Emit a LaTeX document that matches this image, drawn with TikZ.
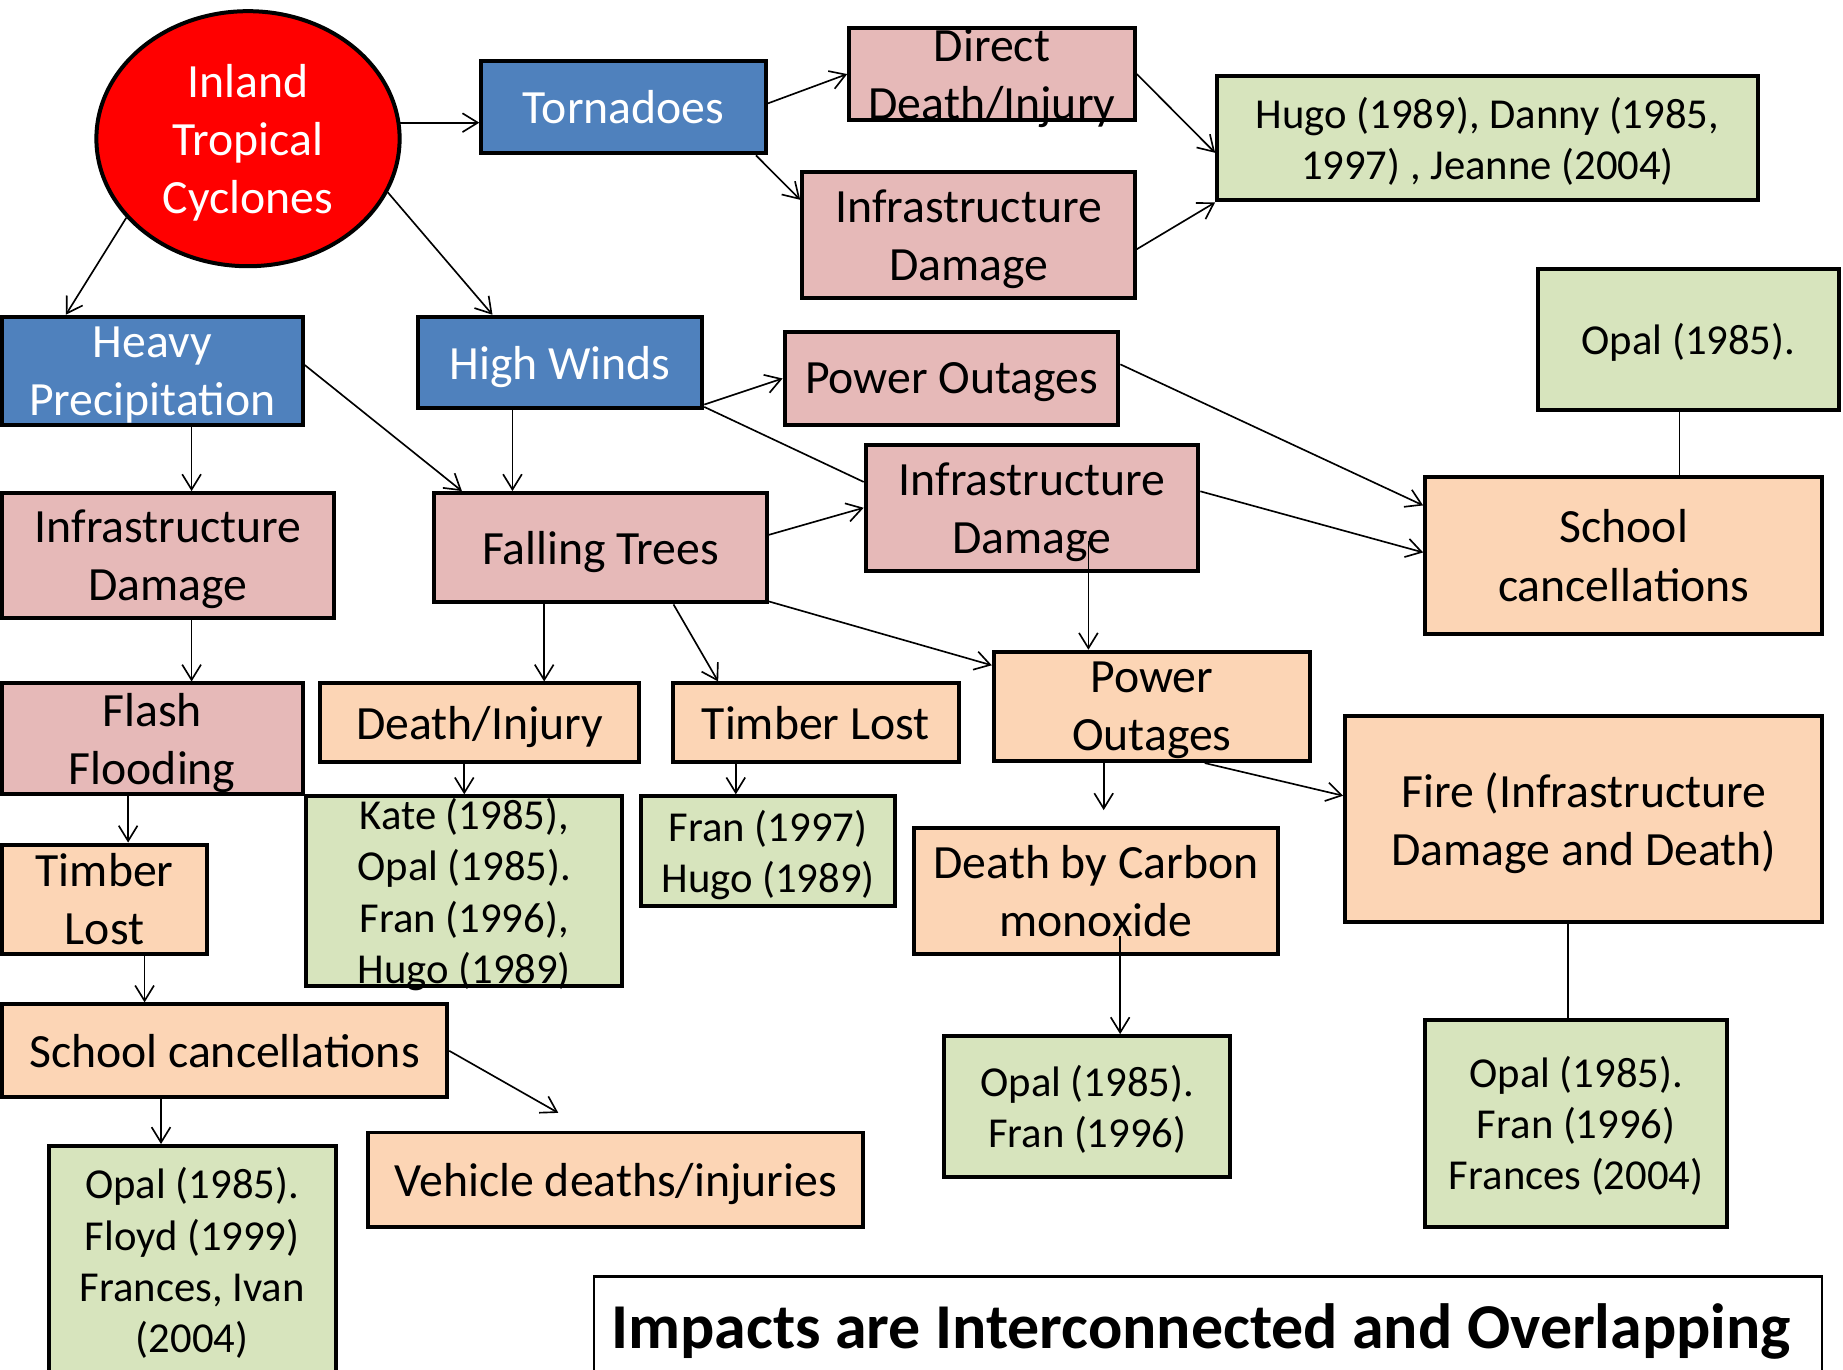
\documentclass[tikz,border=0pt]{standalone}
\usepackage{fontspec}
\setmainfont{Carlito}
\usetikzlibrary{shapes.geometric,arrows.meta}
\definecolor{boxblue}{HTML}{4F81BD}
\definecolor{boxpink}{HTML}{E6B9B8}
\definecolor{boxpeach}{HTML}{FCD5B5}
\definecolor{boxgreen}{HTML}{D7E4BD}
\newcommand{\mainfs}{\fontsize{40.6}{49.5}\selectfont}
\newcommand{\greenfs}{\fontsize{36.3}{43.5}\selectfont}
\newcommand{\titlefs}{\fontsize{54.4}{64}\selectfont\bfseries}

\begin{document}
\begin{tikzpicture}[x=1pt, y=-1pt,
    box/.style={draw=black, line width=3.4pt, rectangle, inner sep=0pt, align=center, font=\mainfs, text depth=0pt},
    bluebox/.style={box, fill=boxblue, text=white},
    pinkbox/.style={box, fill=boxpink},
    peachbox/.style={box, fill=boxpeach},
    greenbox/.style={box, fill=boxgreen, font=\greenfs},
    txt/.style={inner sep=0pt, align=center, font=\mainfs, text depth=0pt},
    conn/.style={-{Straight Barb[length=13pt,width=16pt]}, line width=1.4pt},
    link/.style={line width=1.4pt}]
        \useasboundingbox (0,0) rectangle (1568,1165);

        % Source
        \node[ellipse, draw=black, line width=3.4pt, fill=red, text=white, inner sep=0pt, align=center, font=\mainfs, text depth=0pt, minimum width=258, minimum height=217] (cyc) at (211,118) {Inland\\Tropical\\Cyclones};

        % Hazards
        \node[bluebox, minimum width=242, minimum height=79] (tor) at (530.5,91) {Tornadoes};
        \node[bluebox, minimum width=256, minimum height=92] (hvy) at (129.5,315.5) {Heavy\\Precipitation};
        \node[bluebox, minimum width=242, minimum height=78] (hwd) at (476.5,308.5) {High Winds};

        % First level impacts
        \node[pinkbox, minimum width=243, minimum height=79] (ddi) at (844,63) {};
        \node[txt] (ddi-t) at (ddi) {Direct\\Death/Injury};
        \node[pinkbox, minimum width=283, minimum height=107] (infa) at (824,200) {Infrastructure\\Damage};
        \node[pinkbox, minimum width=284, minimum height=79] (pwa) at (809.5,322) {Power Outages};
        \node[pinkbox, minimum width=283, minimum height=107] (infb) at (878,432) {Infrastructure\\Damage};
        \node[pinkbox, minimum width=283, minimum height=106] (infc) at (143,472.5) {Infrastructure\\Damage};
        \node[pinkbox, minimum width=283, minimum height=93] (ftr) at (511,466) {Falling Trees};
        \node[pinkbox, minimum width=256, minimum height=94] (fls) at (129.5,628.5) {Flash\\Flooding};

        % Second level impacts
        \node[peachbox, minimum width=338, minimum height=134] (sch) at (1381.5,472.5) {School\\cancellations};
        \node[peachbox, minimum width=271, minimum height=67] (dij) at (408,615) {Death/Injury};
        \node[peachbox, minimum width=243, minimum height=67] (tlb) at (694,615) {Timber Lost};
        \node[peachbox, minimum width=269, minimum height=93] (pwb) at (980,601) {Power\\Outages};
        \node[peachbox, minimum width=406, minimum height=175] (fire) at (1347.5,697) {Fire (Infrastructure\\Damage and Death)};
        \node[peachbox, minimum width=310, minimum height=107] (dco) at (932.5,758) {Death by Carbon\\monoxide};
        \node[peachbox, minimum width=175, minimum height=93] (tla) at (89,765) {Timber\\Lost};
        \node[peachbox, minimum width=379, minimum height=79] (scl) at (191,894) {School cancellations};
        \node[peachbox, minimum width=421, minimum height=80] (veh) at (524,1003.5) {Vehicle deaths/injuries};

        % Storms
        \node[greenbox, minimum width=460, minimum height=106] (hugo) at (1265.5,117.5) {Hugo (1989), Danny (1985,\\1997) , Jeanne (2004)};
        \node[greenbox, minimum width=256, minimum height=120] (opa) at (1436.5,288.5) {Opal (1985).};
        \node[greenbox, minimum width=269, minimum height=161] (kate) at (395,758) {};
        \node[txt, font=\greenfs] (kate-t) at (kate) {Kate (1985),\\Opal (1985).\\Fran (1996),\\Hugo (1989)};
        \node[greenbox, minimum width=216, minimum height=93] (fran) at (653.5,724) {Fran (1997)\\Hugo (1989)};
        \node[greenbox, minimum width=244, minimum height=194] (opf) at (163.5,1072) {Opal (1985).\\Floyd (1999)\\Frances, Ivan\\(2004)};
        \node[greenbox, minimum width=243, minimum height=120] (opb) at (925,941.5) {Opal (1985).\\Fran (1996)};
        \node[greenbox, minimum width=257, minimum height=176] (opc) at (1341,955.5) {Opal (1985).\\Fran (1996)\\Frances (2004)};

        % Title
        \node[draw=black, line width=1.8pt, inner sep=0pt, font=\titlefs, text depth=0pt, minimum width=1045, minimum height=84] (ttl) at (1027.5,1128) {Impacts are Interconnected and Overlapping\hspace*{11pt}};

        % Free ends
        \coordinate (pwbend) at ([xshift=-41pt,yshift=-40pt]pwb.south);
        \coordinate (sclend) at ([xshift=-49pt,yshift=15pt]veh.north);

        % Connectors
        \draw[conn] (cyc.6) -- (cyc.6 -| tor.west);
        \draw[conn] (cyc.213) -- ([xshift=-73.5pt]hvy.north);
        \draw[conn] (cyc.-21) -- ([xshift=-57.5pt]hwd.north);
        \draw[conn] ([yshift=3pt]tor.east) -- (ddi.west);
        \draw[conn] ([xshift=-10pt]tor.south east) -- ([yshift=30pt]infa.west);
        \draw[conn] (ddi.east) -- ([yshift=-12.5pt]hugo.west);
        \draw[conn] ([yshift=-12pt]infa.east) -- (hugo.south west);
        \draw[conn] ([yshift=5pt]hwd.south east) -- (pwa.west);
        \draw[link] ([yshift=3pt]hwd.south east) -- ([yshift=22pt]infb.west);
        \draw[conn] ([xshift=33.5pt]hvy.south) -- ([xshift=33.5pt]hvy.south |- infc.north);
        \draw[conn] ([yshift=5pt]hvy.east) -- ([xshift=-118pt]ftr.north);
        \draw[conn] ([xshift=-40.5pt]hwd.south) -- ([xshift=-40.5pt]hwd.south |- ftr.north);
        \draw[conn] ([yshift=11pt]ftr.east) -- (infb.west);
        \draw[conn] ([yshift=2.5pt]ftr.south east) -- ([yshift=35pt]pwb.west);
        \draw[conn] ([yshift=12pt]pwa.east) -- ([yshift=42.5pt]sch.west);
        \draw[conn] ([yshift=14pt]infb.east) -- ([yshift=2.5pt]sch.west);
        \draw[conn] ([xshift=48pt,yshift=27pt]infb.south) -- ([xshift=48pt]infb.south |- pwb.north);
        \draw[conn] ([xshift=-41pt]pwb.south) -- (pwbend);
        \draw[conn] ([xshift=45pt]pwb.south) -- ([yshift=20pt]fire.west);
        \draw[conn] ([xshift=20.5pt,yshift=17pt]dco.south) -- ([xshift=20.5pt]dco.south |- opb.north);
        \draw[link] ([xshift=-13.5pt]fire.south) -- ([xshift=-13.5pt]fire.south |- opc.north);
        \draw[link] ([xshift=-7.5pt]opa.south) -- ([xshift=-7.5pt]opa.south |- sch.north);
        \draw[conn] ([xshift=20pt]infc.south) -- ([xshift=20pt]infc.south |- fls.north);
        \draw[conn] ([xshift=-48pt]ftr.south) -- ([xshift=-48pt]ftr.south |- dij.north);
        \draw[conn] ([xshift=62pt]ftr.south) -- ([xshift=-83pt]tlb.north);
        \draw[conn] ([xshift=-13pt]dij.south) -- ([xshift=-13pt]dij.south |- kate.north);
        \draw[conn] ([xshift=-68pt]tlb.south) -- ([xshift=-68pt]tlb.south |- fran.north);
        \draw[conn] ([xshift=-20.5pt]fls.south) -- ([xshift=-20.5pt]fls.south |- tla.north);
        \draw[conn] ([xshift=34pt]tla.south) -- ([xshift=34pt]tla.south |- scl.north);
        \draw[conn] ([xshift=-54pt]scl.south) -- ([xshift=-54pt]scl.south |- opf.north);
        \draw[conn] (scl.east) -- (sclend);

    \end{tikzpicture}
\end{document}
